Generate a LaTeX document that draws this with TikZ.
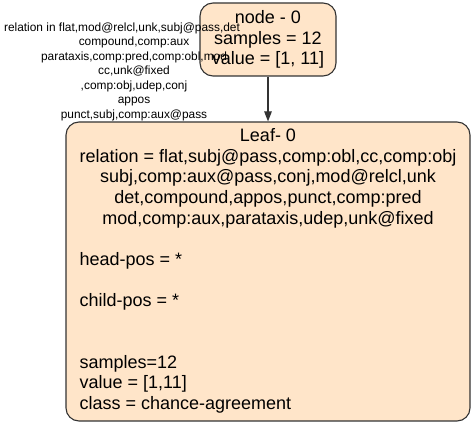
\documentclass[tikz,border=0pt]{standalone}
\usepackage{fontspec}
\setmainfont{Liberation Sans}
\usetikzlibrary{arrows.meta}
\definecolor{boxfill}{HTML}{FFE5C9}
\definecolor{lineclr}{HTML}{333333}
\begin{document}
\begin{tikzpicture}[x=1pt,y=-1pt,
  treebox/.style={draw=lineclr, line width=1.1pt, fill=boxfill, rounded corners=13pt, inner sep=0pt},
  bigfont/.style={font=\fontsize{18}{20.6}\selectfont},
  smallfont/.style={font=\fontsize{11.9}{14.5}\selectfont},
  edgeline/.style={draw=lineclr, line width=1.1pt, -{Triangle[length=10pt,width=7.5pt]}}]
\useasboundingbox (0,0) rectangle (475,425);
\node[treebox, bigfont, minimum width=136pt, minimum height=73pt, align=center] (root) at (268,39.5)
  {node - 0\\samples = 12\\value = [1, 11]};
\node[treebox, bigfont, minimum width=404pt, minimum height=299pt] (leaf) at (268,271.5)
  {\renewcommand\arraystretch{1}\begin{tabular}{@{}l@{}}
   \multicolumn{1}{@{}c@{}}{Leaf- 0}\\
   \multicolumn{1}{@{}c@{}}{relation = flat,subj@pass,comp:obl,cc,comp:obj}\\
   \multicolumn{1}{@{}c@{}}{subj,comp:aux@pass,conj,mod@relcl,unk}\\
   \multicolumn{1}{@{}c@{}}{det,compound,appos,punct,comp:pred}\\
   \multicolumn{1}{@{}c@{}}{mod,comp:aux,parataxis,udep,unk@fixed}\\
   \\
   head-pos = *\\
   \\
   child-pos = *\\
   \\
   \\
   samples=12\\
   value = [1,11]\\
   class = chance-agreement
  \end{tabular}};
\draw[edgeline] (root) -- (leaf);
\node[smallfont, align=center, inner sep=0pt] (elabel) at (134,71.5)
  {relation in flat,mod@relcl,unk,subj@pass,det\hspace*{24pt}\\
   compound,comp:aux\\
   parataxis,comp:pred,comp:obl,mod\\
   cc,unk@fixed\\
   ,comp:obj,udep,conj\\
   appos\\
   punct,subj,comp:aux@pass};
\end{tikzpicture}
\end{document}
